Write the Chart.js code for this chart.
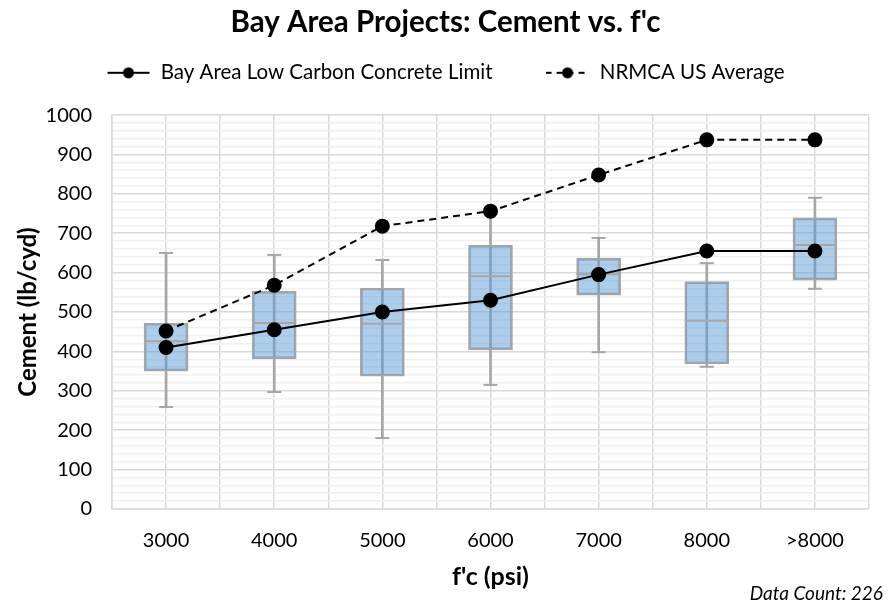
<!DOCTYPE html>
<html><head><meta charset="utf-8">
<script src="https://cdn.jsdelivr.net/npm/chart.js@4/dist/chart.umd.min.js"></script>
<style>html,body{margin:0;padding:0;background:#fff}#wrap{width:893px;height:605px;position:relative}</style>
</head><body><div id="wrap"><canvas id="c"></canvas></div>
<script>
const categories = ['3000','4000','5000','6000','7000','8000','>8000'];
const whiskerMin = [259,297,180,315,398,361,559];
const q1 = [350,381,337,404,543,368,581];
const median = [426,472,470,591,596,478,670];
const q3 = [472,553,561,670,637,577,739];
const whiskerMax = [650,645,632,752,688,624,790];
const bayAreaLimit = [410,455,500,530,595,655,655];
const nrmcaAverage = [452,568,718,756,848,937,937];
const yMin = 0, yMax = 1000, yMajor = 100, yMinor = 20;

const FONT = 'Lato, "Open Sans", sans-serif';
const GRID_MAJOR = '#d9d9d9', GRID_MINOR = '#f0f0f0', BOXGREY = '#a6a6a6';

function legendImg(dashed){
  const c = document.createElement('canvas'); c.width = 44; c.height = 16;
  const x = c.getContext('2d');
  x.strokeStyle = '#000'; x.lineWidth = 2;
  if (dashed) x.setLineDash([6,5]);
  x.beginPath(); x.moveTo(dashed ? 0 : 1,8); x.lineTo(43,8); x.stroke();
  x.setLineDash([]);
  x.fillStyle = '#000'; x.beginPath(); x.arc(22,8,5.5,0,Math.PI*2); x.fill();
  return c;
}
const imgSolid = legendImg(false), imgDash = legendImg(true);

const whiskers = categories.map((_, i) => [whiskerMin[i], whiskerMax[i]]);
const boxes = categories.map((_, i) => [q1[i], q3[i]]);

// extra space between the legend and the plot area
const legendSpacer = {
  id: 'legendSpacer',
  afterInit(chart) {
    const lg = chart.legend;
    if (!lg || lg._spaced) return;
    const fit = lg.fit.bind(lg);
    lg.fit = function () { fit(); this.height += 22; };
    lg._spaced = true;
  }
};

new Chart(document.getElementById('c'), {
  plugins: [legendSpacer],
  data: {
    labels: categories,
    datasets: [
      { type: 'line', label: 'Bay Area Low Carbon Concrete Limit', data: bayAreaLimit,
        borderColor: '#000', backgroundColor: '#000', borderWidth: 2, pointRadius: 6.5, pointHoverRadius: 6.5,
        tension: 0, order: 0 },
      { type: 'line', label: 'NRMCA US Average', data: nrmcaAverage,
        borderColor: '#000', backgroundColor: '#000', borderWidth: 2, borderDash: [7,5], pointRadius: 6.5, pointHoverRadius: 6.5,
        tension: 0, order: 1 },
      { type: 'line', label: 'median', data: median, showLine: false, pointStyle: 'line',
        pointRadius: 22, borderColor: BOXGREY, pointBorderWidth: 2, order: 2 },
      { type: 'line', label: 'maxcap', data: whiskerMax, showLine: false, pointStyle: 'line',
        pointRadius: 7, borderColor: BOXGREY, pointBorderWidth: 2, order: 3 },
      { type: 'line', label: 'mincap', data: whiskerMin, showLine: false, pointStyle: 'line',
        pointRadius: 7, borderColor: BOXGREY, pointBorderWidth: 2, order: 3 },
      { type: 'bar', label: 'box', data: boxes, grouped: false, barThickness: 44,
        backgroundColor: 'rgba(91,155,213,0.5)', borderColor: BOXGREY, borderWidth: 2, borderSkipped: false, order: 4 },
      { type: 'bar', label: 'whisker', data: whiskers, grouped: false, barThickness: 2,
        backgroundColor: BOXGREY, borderWidth: 0, order: 5 }
    ]
  },
  options: {
    responsive: true, maintainAspectRatio: false, animation: false,
    layout: { padding: { left: 8, right: 10, top: 0, bottom: 2 } },
    plugins: {
      tooltip: { enabled: false },
      title: { display: true, text: "Bay Area Projects: Cement vs. f'c", color: '#000',
        font: { family: FONT, size: 29.5, weight: 'bold', lineHeight: 1.1 }, padding: { top: 5.8, bottom: -7.7 } },
      subtitle: { display: true, position: 'bottom', align: 'end', text: 'Data Count: 226', color: '#000',
        font: { family: FONT, size: 19, style: 'italic', lineHeight: 1 }, padding: { top: 0, bottom: 0 } },
      legend: { display: true, position: 'top',
        labels: { color: '#000', font: { family: FONT, size: 20.5 }, usePointStyle: true, pointStyleWidth: 44, padding: 32,
          generateLabels: (chart) => chart.data.datasets.slice(0,2).map((d, i) => ({
            text: i === 0 ? d.label + '    ' : d.label, pointStyle: i === 0 ? imgSolid : imgDash, datasetIndex: i,
            fillStyle: '#000', strokeStyle: '#000', lineWidth: 0, hidden: false, fontColor: '#000'
          })) } }
    },
    scales: {
      x: { type: 'category', offset: true,
        grid: { offset: true, color: GRID_MAJOR, lineWidth: 1.5, drawTicks: false },
        border: { display: true, color: GRID_MAJOR, width: 1.5 },
        ticks: { color: '#000', font: { family: FONT, size: 20 }, padding: 20 },
        title: { display: true, text: "f'c (psi)", color: '#000', font: { family: FONT, size: 25, weight: 'bold', lineHeight: 1 }, padding: { top: 12, bottom: -5 } },
        afterFit: (s) => { s.height = 75; } },
      x2: { type: 'category', labels: categories, offset: true, position: 'bottom', display: true,
        grid: { offset: false, color: GRID_MAJOR, lineWidth: 1.5, drawTicks: false },
        border: { display: false }, ticks: { display: false }, afterFit: (s) => { s.height = 0; } },
      y: { min: yMin, max: yMax,
        grid: { color: (ctx) => (ctx.tick && ctx.tick.value % yMajor === 0) ? GRID_MAJOR : GRID_MINOR, lineWidth: 1.5, drawTicks: false },
        border: { display: true, color: GRID_MAJOR, width: 1.5 },
        ticks: { stepSize: yMinor, autoSkip: false, color: '#000', font: { family: FONT, size: 20 }, padding: 20,
          callback: (v) => (v % yMajor === 0) ? String(v) : '' },
        title: { display: true, text: 'Cement (lb/cyd)', color: '#000', font: { family: FONT, size: 24, weight: 'bold', lineHeight: 1.1 }, padding: { top: 6.8, bottom: 0 } },
        afterFit: (s) => { s.width = 104; } }
    }
  }
});
</script></body></html>
